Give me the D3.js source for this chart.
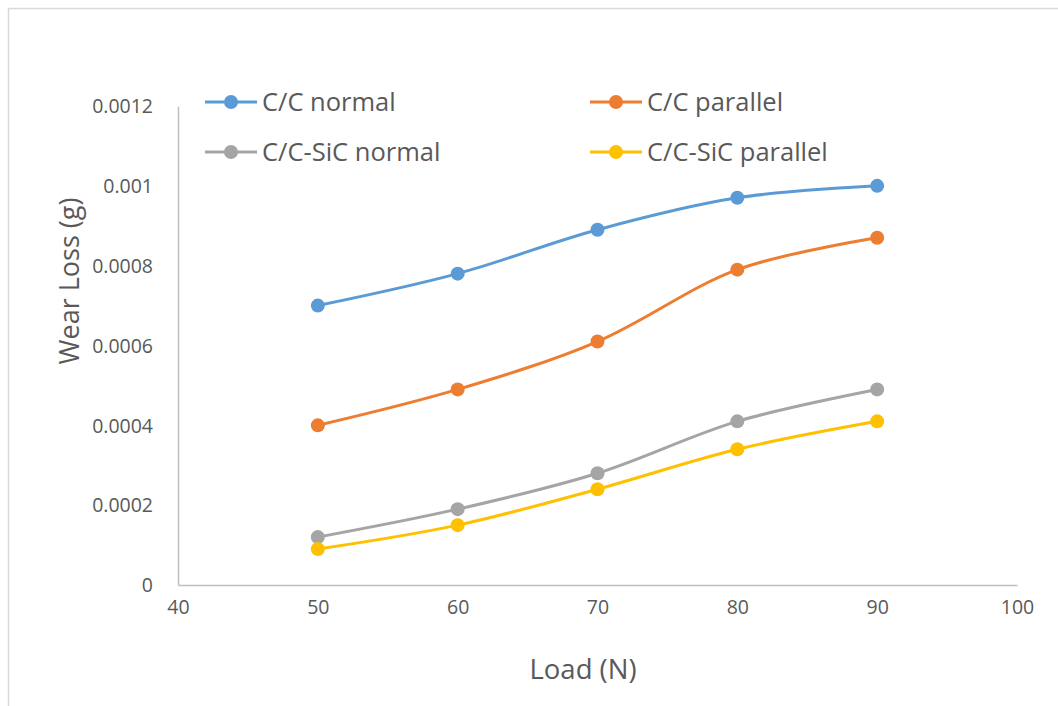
<!DOCTYPE html>
<html><head><meta charset="utf-8">
<script src="https://cdn.jsdelivr.net/npm/d3@7"></script>
<style>body{margin:0;background:#fff}svg{display:block}text{font-family:"Open Sans",sans-serif}</style>
</head><body>
<svg id="c" width="1058" height="706"></svg>
<script>
const loads = [50, 60, 70, 80, 90];
const ccNormal = [0.0007, 0.00078, 0.00089, 0.00097, 0.001];
const ccParallel = [0.0004, 0.00049, 0.00061, 0.00079, 0.00087];
const ccsicNormal = [0.00012, 0.00019, 0.00028, 0.00041, 0.00049];
const ccsicParallel = [0.00009, 0.00015, 0.00024, 0.00034, 0.00041];
const seriesNames = ["C/C normal", "C/C parallel", "C/C-SiC normal", "C/C-SiC parallel"];
const seriesColors = ["#5B9BD5", "#ED7D31", "#A5A5A5", "#FFC000"];
const xTicks = [40, 50, 60, 70, 80, 90, 100];
const yTicks = [0, 0.0002, 0.0004, 0.0006, 0.0008, 0.001, 0.0012];
const yTickLabels = ["0", "0.0002", "0.0004", "0.0006", "0.0008", "0.001", "0.0012"];

const svg = d3.select("#c");
svg.append("rect").attr("x", 8.5).attr("y", 8.5).attr("width", 1100).attr("height", 800)
  .attr("fill", "none").attr("stroke", "#D9D9D9").attr("stroke-width", 1.5);

const x = d3.scaleLinear().domain([40, 100]).range([178, 1017]);
const y = d3.scaleLinear().domain([0, 0.0012]).range([585, 106]);

const xAxis = svg.append("g").attr("transform", `translate(0,${y(0)})`)
  .call(d3.axisBottom(x).tickValues(xTicks).tickSize(0).tickPadding(15).tickFormat(d3.format("d")));
const yAxis = svg.append("g").attr("transform", `translate(${x(40)},0)`)
  .call(d3.axisLeft(y).tickValues(yTicks).tickSize(0).tickPadding(25).tickFormat((d, i) => yTickLabels[i]));
[xAxis, yAxis].forEach(g => {
  g.select(".domain").attr("stroke", "#BFBFBF").attr("stroke-width", 1.5);
  g.selectAll("text").attr("fill", "#595959").style("font-size", "19.5px").style("font-family", "'Open Sans', sans-serif");
});
yAxis.selectAll("text").attr("dy", "0.35em");
xAxis.selectAll("text").attr("dy", "0.71em");

svg.append("text").attr("x", 583).attr("y", 679).attr("text-anchor", "middle")
  .attr("fill", "#595959").style("font-size", "27.5px").text("Load (N)");
svg.append("text").attr("transform", "translate(79,281) rotate(-90)").attr("text-anchor", "middle")
  .attr("fill", "#595959").style("font-size", "27px").text("Wear Loss (g)");

const allSeries = [ccNormal, ccParallel, ccsicNormal, ccsicParallel];
const line = d3.line().x((d, i) => x(loads[i])).y(d => y(d)).curve(d3.curveCatmullRom.alpha(0.5));
allSeries.forEach((vals, k) => {
  svg.append("path").datum(vals).attr("d", line).attr("fill", "none")
    .attr("stroke", seriesColors[k]).attr("stroke-width", 3).attr("stroke-linecap", "round");
  svg.selectAll(null).data(vals).enter().append("circle")
    .attr("cx", (d, i) => x(loads[i])).attr("cy", d => y(d)).attr("r", 7)
    .attr("fill", seriesColors[k]);
});

const legPos = [[205, 102], [590, 102], [205, 152], [590, 152]];
seriesNames.forEach((name, k) => {
  const [lx, ly] = legPos[k];
  const g = svg.append("g").attr("transform", `translate(${lx},${ly})`);
  g.append("line").attr("x1", 0).attr("x2", 52).attr("y1", 0).attr("y2", 0)
    .attr("stroke", seriesColors[k]).attr("stroke-width", 3);
  g.append("circle").attr("cx", 26).attr("cy", 0).attr("r", 7).attr("fill", seriesColors[k]);
  g.append("text").attr("x", 57).attr("y", 0).attr("dy", "0.35em")
    .attr("fill", "#595959").style("font-size", "25.5px").text(name);
});
</script>
</body></html>
